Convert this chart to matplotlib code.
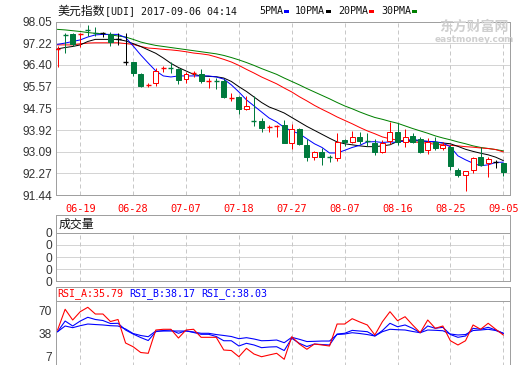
import matplotlib
matplotlib.use('Agg')
import matplotlib.pyplot as plt
from matplotlib.patches import Rectangle

# ---- data (USD index daily candles, 60 sessions) ----
opens  = [96.98, 97.56, 97.56, 97.55, 97.74, 97.62, 97.60, 97.56, 97.37, 96.52,
          96.50, 96.06, 95.63, 95.70, 96.26, 96.28, 96.24, 95.85, 96.07, 96.06,
          95.79, 95.81, 95.79, 95.14, 95.19, 94.72, 94.28, 94.28, 94.01, 94.07,
          94.12, 93.42, 93.95, 93.36, 92.88, 93.07, 92.89, 92.85, 93.55, 93.46,
          93.67, 93.53, 93.44, 93.10, 93.52, 93.84, 93.48, 93.70, 93.57, 93.17,
          93.48, 93.23, 93.29, 92.41, 92.22, 92.41, 92.89, 92.67, 92.70, 92.66]
highs  = [97.10, 97.60, 97.60, 97.60, 97.92, 97.83, 97.66, 97.64, 97.62, 97.60,
          96.52, 96.10, 95.72, 96.27, 96.36, 96.52, 96.27, 96.14, 96.18, 96.23,
          95.89, 95.89, 95.85, 95.34, 95.22, 95.22, 95.22, 94.37, 94.12, 94.12,
          94.31, 94.16, 94.00, 93.57, 93.13, 93.23, 92.99, 93.82, 93.60, 93.90,
          93.86, 93.80, 93.57, 93.55, 94.24, 94.18, 93.95, 93.80, 93.65, 93.61,
          93.65, 93.46, 93.36, 92.48, 92.37, 92.91, 93.29, 92.91, 92.78, 92.66]
lows   = [96.33, 96.84, 97.13, 97.09, 97.51, 97.51, 97.47, 97.10, 97.16, 96.40,
          95.98, 95.55, 95.55, 95.60, 96.14, 96.10, 95.68, 95.70, 95.95, 95.72,
          95.53, 95.50, 95.13, 95.04, 94.52, 94.69, 94.08, 93.86, 93.86, 93.65,
          93.42, 93.19, 93.36, 92.75, 92.80, 92.60, 92.71, 92.75, 93.30, 93.42,
          93.40, 93.33, 92.96, 93.04, 93.40, 93.36, 93.29, 93.44, 93.04, 93.01,
          93.17, 93.16, 92.41, 92.12, 91.62, 92.28, 92.54, 92.13, 92.47, 92.18]
closes = [97.00, 97.53, 97.18, 97.57, 97.72, 97.60, 97.60, 97.28, 97.37, 96.52,
          96.08, 95.60, 95.65, 96.18, 96.28, 96.26, 95.82, 96.06, 96.09, 95.80,
          95.81, 95.79, 95.19, 95.16, 94.72, 94.84, 94.26, 94.01, 94.03, 94.09,
          93.44, 93.95, 93.38, 92.88, 93.07, 92.91, 92.87, 93.48, 93.47, 93.67,
          93.52, 93.51, 93.10, 93.44, 93.84, 93.48, 93.67, 93.48, 93.10, 93.48,
          93.23, 93.36, 92.56, 92.22, 92.35, 92.85, 92.60, 92.82, 92.70, 92.34]

ma5  = [97.18, 97.23, 97.29, 97.35, 97.46, 97.54, 97.56, 97.56, 97.56, 97.44,
        97.12, 96.78, 96.47, 96.17, 95.98, 95.94, 95.98, 95.98, 95.98, 95.98,
        95.98, 95.94, 95.86, 95.64, 95.37, 95.07, 94.84, 94.61, 94.38, 94.23,
        94.02, 93.89, 93.78, 93.59, 93.40, 93.26, 93.05, 93.05, 93.15, 93.26,
        93.34, 93.47, 93.48, 93.45, 93.47, 93.45, 93.52, 93.57, 93.52, 93.49,
        93.48, 93.43, 93.28, 92.94, 92.79, 92.66, 92.56, 92.60, 92.69, 92.70]
ma10 = [97.01, 97.06, 97.10, 97.16, 97.29, 97.37, 97.37, 97.37, 97.37, 97.31,
        97.21, 97.10, 96.97, 96.84, 96.66, 96.46, 96.30, 96.17, 96.04, 95.98,
        95.96, 95.95, 95.90, 95.77, 95.57, 95.39, 95.18, 94.97, 94.80, 94.69,
        94.57, 94.40, 94.23, 94.06, 93.91, 93.76, 93.61, 93.47, 93.40, 93.36,
        93.32, 93.29, 93.29, 93.32, 93.36, 93.49, 93.51, 93.52, 93.51, 93.49,
        93.46, 93.43, 93.40, 93.30, 93.19, 93.11, 93.04, 92.98, 92.89, 92.76]
ma20 = [97.16, 97.16, 97.16, 97.20, 97.23, 97.24, 97.24, 97.24, 97.24, 97.21,
        97.18, 97.10, 97.04, 97.02, 96.99, 96.97, 96.94, 96.90, 96.85, 96.82,
        96.78, 96.70, 96.61, 96.51, 96.38, 96.23, 96.09, 95.94, 95.81, 95.68,
        95.52, 95.37, 95.19, 95.03, 94.86, 94.71, 94.57, 94.42, 94.29, 94.16,
        94.02, 93.89, 93.78, 93.66, 93.59, 93.54, 93.50, 93.47, 93.45, 93.42,
        93.38, 93.36, 93.34, 93.32, 93.29, 93.27, 93.24, 93.22, 93.18, 93.09]
ma30 = [97.75, 97.73, 97.70, 97.67, 97.63, 97.60, 97.58, 97.54, 97.50, 97.46,
        97.37, 97.27, 97.20, 97.14, 97.10, 97.06, 97.02, 96.98, 96.94, 96.90,
        96.86, 96.82, 96.76, 96.68, 96.59, 96.49, 96.38, 96.26, 96.15, 96.04,
        95.90, 95.77, 95.64, 95.50, 95.37, 95.24, 95.11, 94.97, 94.84, 94.73,
        94.61, 94.50, 94.40, 94.33, 94.25, 94.18, 94.08, 93.98, 93.89, 93.80,
        93.70, 93.62, 93.55, 93.47, 93.40, 93.32, 93.26, 93.22, 93.18, 93.13]

rsi_a = [42.6, 71.0, 56.3, 67.7, 73.7, 64.5, 64.5, 54.2, 57.0, 24.8,
         19.7, 11.8, 10.7, 42.6, 43.6, 43.6, 31.6, 42.6, 43.6, 32.6,
         32.6, 32.6, 15.2, 14.5, 6.0, 17.5, 9.7, 6.0, 8.4, 10.7,
         2.5, 33.4, 23.4, 16.2, 23.4, 22.1, 20.7, 50.8, 50.8, 58.1,
         53.6, 49.5, 35.8, 54.0, 67.7, 55.3, 60.8, 49.5, 38.9, 56.3,
         44.9, 48.1, 27.9, 22.1, 27.9, 49.5, 43.6, 51.8, 43.6, 35.79]
rsi_b = [40.3, 54.9, 48.1, 54.9, 60.0, 57.0, 55.6, 51.5, 51.8, 42.6,
         37.1, 32.3, 28.2, 40.3, 41.9, 42.6, 38.1, 41.6, 39.2, 36.7,
         36.7, 33.7, 27.9, 27.9, 20.7, 24.4, 22.1, 18.4, 19.3, 19.7,
         14.5, 31.2, 24.4, 20.0, 23.4, 22.7, 22.1, 37.1, 38.1, 42.1,
         41.2, 40.3, 34.4, 41.9, 51.8, 47.1, 49.5, 44.9, 38.9, 48.1,
         44.9, 46.3, 36.4, 32.6, 34.4, 44.9, 43.6, 46.3, 42.6, 38.17]
rsi_c = [40.3, 48.1, 45.8, 48.5, 50.8, 50.1, 49.5, 48.5, 48.1, 44.0,
         37.8, 35.1, 33.4, 41.2, 41.2, 41.2, 41.2, 41.2, 39.9, 38.1,
         38.1, 36.4, 35.1, 33.7, 30.7, 32.1, 30.3, 27.9, 28.2, 28.9,
         25.2, 32.6, 29.9, 26.8, 27.1, 27.5, 27.5, 36.4, 37.1, 38.9,
         37.8, 36.4, 34.4, 40.3, 43.6, 43.0, 42.6, 40.6, 38.9, 42.6,
         42.2, 41.6, 37.1, 35.8, 36.4, 41.9, 42.6, 43.6, 41.9, 38.03]

tick_idx = [3, 10, 17, 24, 31, 38, 45, 52, 59]
tick_labels = ['06-19', '06-28', '07-07', '07-18', '07-27',
               '08-07', '08-16', '08-25', '09-05']
price_ticks = [91.44, 92.27, 93.09, 93.92, 94.75, 95.57, 96.40, 97.22, 98.05]
rsi_ticks = [7, 38, 70]

title_cn = '美元指数'
title_rest = '[UDI] 2017-09-06 04:14'
ma_names = ['5PMA', '10PMA', '20PMA', '30PMA']

# ---- styles ----
W, H = 520, 365
RED, GREEN, BLUE = '#ff0000', '#007a3d', '#0000ff'
MA_COLORS = ['#0000ff', '#000000', '#ff0000', '#008000']
SPINE = '#a0a0a0'
GRID = '#d4d4d4'
MONO = 'DejaVu Sans Mono'
CJK = 'Noto Sans CJK SC'
LAB = 'Liberation Sans'
PX = 0.72  # one pixel in points at dpi 100


def rect(x0, y0, x1, y1):
    return [x0 / W, 1 - y1 / H, (x1 - x0) / W, (y1 - y0) / H]


def style(ax, xgrid=True):
    for s in ax.spines.values():
        s.set_color(SPINE)
        s.set_linewidth(PX)
    ax.set_xlim(-0.21, 59.89)
    ax.set_xticks([])
    ax.tick_params(axis='y', length=0, pad=3, labelsize=8.6, labelcolor='#333333')
    for lab in ax.get_yticklabels():
        lab.set_fontfamily(LAB)
    if xgrid:
        for t in tick_idx:
            ax.axvline(t, color='#c8c8c8', lw=PX, ls=(0, (4, 3)), zorder=0)


fig = plt.figure(figsize=(W / 100, H / 100), dpi=100)
fig.patch.set_facecolor('white')

# ---- main candle chart ----
ax = fig.add_axes(rect(56, 21.5, 510, 195.3))
ax.set_ylim(91.44, 98.05)
ax.set_yticks(price_ticks)
ax.set_yticklabels([f'{v:.2f}' for v in price_ticks])
for v in price_ticks:
    ax.axhline(v, color=GRID, lw=PX, zorder=0)
style(ax)
for lab in ax.get_yticklabels():
    lab.set_fontfamily(LAB)

xs = list(range(len(opens)))
for ma, c in zip([ma30, ma20, ma10, ma5], MA_COLORS[::-1]):
    ax.plot(xs, ma, color=c, lw=PX, zorder=2)

bw = 0.66
for i, (o, h, l, c) in enumerate(zip(opens, highs, lows, closes)):
    if c > o:
        col = RED
    elif c < o:
        col = GREEN
    else:
        col = '#000000'
    ax.vlines(i, l, h, color=col, lw=PX, zorder=3)
    if abs(c - o) < 0.035:
        ax.hlines((o + c) / 2, i - bw / 2, i + bw / 2, color=col, lw=PX * 1.4, zorder=4)
    elif c > o:
        ax.bar(i, c - o, bottom=o, width=bw, facecolor='white', edgecolor=RED,
               linewidth=PX, zorder=4)
    else:
        ax.bar(i, o - c, bottom=c, width=bw, facecolor=GREEN, edgecolor=GREEN,
               linewidth=PX, zorder=4)

# date labels under the price panel
for t, lab in zip(tick_idx, tick_labels):
    ax.annotate(lab, (t, 0), xycoords=('data', 'axes fraction'),
                xytext=(0, -6.5), textcoords='offset points',
                ha='center', va='top', color=RED, fontsize=7.4, family=MONO)

# watermark
fig.text(474 / W, 1 - 27 / H, '东方财富网', color='#cfcfcf', fontsize=10,
         family=CJK, ha='center', va='center', fontweight='bold')
fig.text(474 / W, 1 - 40 / H, 'eastmoney.com', color='#cfcfcf', fontsize=6.5,
         family='DejaVu Sans', ha='center', va='center', fontweight='bold')

# ---- header ----
fig.text(57 / W, 1 - 11 / H, title_cn, family=CJK, fontsize=8.6, va='center', color='#111111')
fig.text(105 / W, 1 - 11 / H, title_rest, family=MONO, fontsize=7.2, va='center', color='#111111')
name_x = [259, 295, 338, 381]
for nm, c, x0 in zip(ma_names, MA_COLORS, name_x):
    fig.text(x0 / W, 1 - 11 / H, nm, family=MONO, fontsize=7.2, va='center', color='#111111')
    sq_x = x0 + 6 * len(nm) + 1
    fig.patches.append(Rectangle((sq_x / W, 1 - 12.5 / H), 5 / W, 3 / H,
                                 transform=fig.transFigure, facecolor=c, edgecolor='none'))

# ---- volume panel ----
vh = fig.add_axes(rect(56, 215, 510, 233))
style(vh, xgrid=False)
vh.set_yticks([])
vh.text(0.005, 0.5, '成交量', transform=vh.transAxes, family=CJK, fontsize=8.6,
        va='center', ha='left', color='#111111')

vax = fig.add_axes(rect(56, 233, 510, 281))
vax.set_ylim(0, 4)
vax.set_yticks([0, 1, 2, 3, 4])
vax.set_yticklabels(['0'] * 5)
for v in [1, 2, 3]:
    vax.axhline(v, color=GRID, lw=PX, zorder=0)
style(vax)
for lab in vax.get_yticklabels():
    lab.set_fontfamily(LAB)

# ---- RSI panel ----
rh = fig.add_axes(rect(56, 287, 510, 301))
style(rh, xgrid=False)
rh.set_yticks([])
hdr = [(f'RSI_A:{rsi_a[-1]:.2f}', RED, 57), (f'RSI_B:{rsi_b[-1]:.2f}', BLUE, 129),
       (f'RSI_C:{rsi_c[-1]:.2f}', BLUE, 201)]
for txt, c, x0 in hdr:
    fig.text(x0 / W, 1 - 294 / H, txt, family=MONO, fontsize=7.2, color=c, va='center')

rax = fig.add_axes(rect(56, 301, 510, 366))
rax.set_ylim(-6.69, 82.33)
rax.set_yticks(rsi_ticks)
rax.set_yticklabels([str(v) for v in rsi_ticks])
style(rax)
for lab in rax.get_yticklabels():
    lab.set_fontfamily(LAB)
rax.plot(xs, rsi_c, color=BLUE, lw=PX * 1.1)
rax.plot(xs, rsi_b, color=BLUE, lw=PX * 1.1)
rax.plot(xs, rsi_a, color=RED, lw=PX * 1.1)

fig.savefig('out.png', dpi=100)
